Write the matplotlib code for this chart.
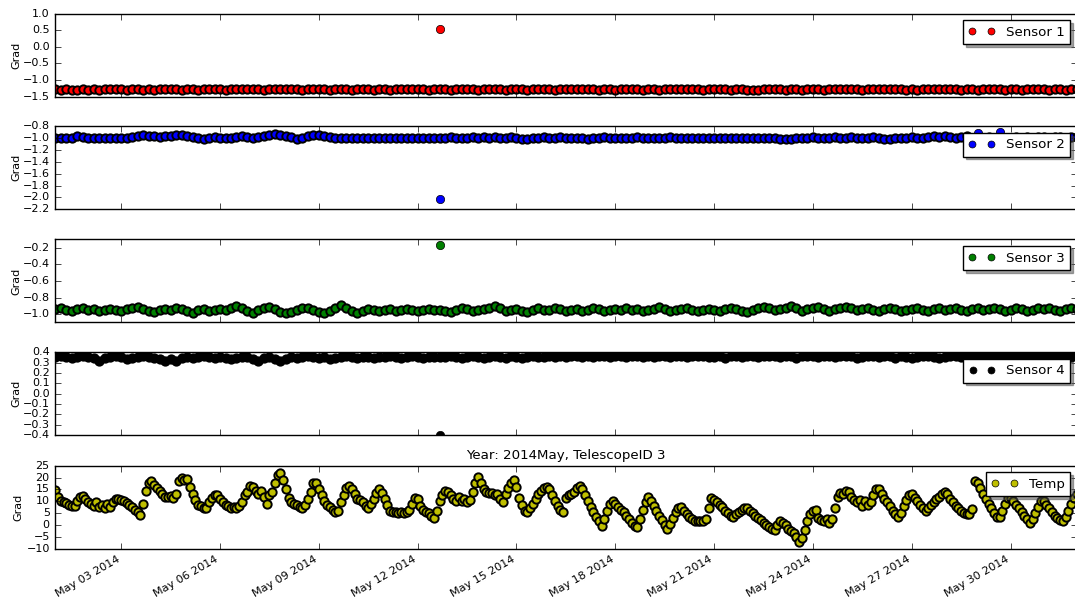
import numpy as np
import pandas as pd
import matplotlib
matplotlib.use('Agg')
import matplotlib.pyplot as plt
import matplotlib.dates as mdates

# temperature, every 2 hours from 2014-05-01 00:00 (one row per day)
temp = [
    14.8, 12.0, 10.2, 9.8, 9.2, 8.5, 7.8, 8.2, 10.0, 11.8, 12.4, 11.0,
    9.8, 9.0, 8.0, 9.5, 7.5, 8.6, 7.2, 9.0, 7.5, 9.8, 11.0, 10.8,
    10.4, 10.0, 9.2, 8.5, 7.5, 6.5, 5.5, 4.2, 9.0, 14.5, 17.8, 18.6,
    17.0, 15.5, 14.5, 13.0, 12.0, 11.8, 12.2, 11.5, 13.0, 18.5, 19.8, 18.8,
    19.5, 16.0, 13.0, 10.5, 8.5, 7.8, 7.0, 7.2, 9.5, 11.5, 12.8, 12.5,
    11.0, 9.8, 8.5, 7.8, 7.2, 7.5, 7.0, 7.8, 9.5, 12.5, 14.0, 16.5,
    16.0, 14.5, 13.0, 14.2, 12.0, 9.0, 12.5, 14.0, 17.5, 21.0, 21.8, 19.0,
    15.0, 11.5, 9.8, 9.0, 8.5, 7.5, 7.0, 8.5, 11.0, 14.0, 17.5, 17.8,
    15.0, 12.5, 10.0, 8.5, 7.5, 6.5, 5.5, 6.0, 9.5, 12.5, 15.5, 16.5,
    15.0, 13.0, 11.0, 10.5, 9.5, 8.0, 7.0, 9.0, 11.0, 13.5, 15.2, 13.5,
    11.0, 8.5, 6.0, 5.3, 5.5, 5.0, 5.5, 5.2, 5.5, 6.5, 9.0, 11.5,
    11.0, 8.0, 6.5, 5.5, 5.0, 4.0, 3.0, 6.0, 10.0, 12.5, 14.5, 14.0,
    12.5, 11.0, 10.0, 12.0, 10.0, 11.0, 9.8, 10.5, 14.0, 17.5, 20.2, 17.5,
    15.0, 14.0, 13.5, 13.5, 12.5, 13.0, 11.0, 9.5, 13.0, 15.5, 17.5, 19.0,
    16.0, 11.5, 8.5, 6.0, 5.5, 7.0, 9.0, 11.0, 13.0, 14.5, 15.5, 16.2,
    15.0, 12.5, 10.0, 8.0, 6.5, 5.5, 11.5, 12.5, 13.0, 14.0, 15.5, 16.5,
    15.0, 12.5, 10.0, 7.5, 5.5, 3.5, 1.5, -0.5, 2.5, 6.0, 9.0, 10.2,
    9.0, 7.5, 6.5, 5.5, 4.0, 2.5, 1.0, -0.5, -1.0, 2.5, 6.5, 9.5,
    11.8, 10.0, 8.0, 6.0, 4.0, 2.0, 0.0, -1.8, 0.5, 3.0, 5.5, 7.0,
    7.5, 6.0, 4.5, 3.5, 2.5, 1.8, 1.6, 1.5, 1.5, 2.5, 7.0, 11.5,
    10.5, 9.5, 8.5, 7.5, 6.0, 5.0, 4.0, 3.2, 4.5, 5.5, 6.5, 7.3,
    7.0, 6.0, 5.0, 4.0, 3.0, 2.0, 1.0, 0.0, -0.8, -1.5, -2.0, 0.0,
    1.5, 1.0, 0.0, -1.5, -2.5, -3.5, -5.0, -7.0, -5.5, -2.0, 1.5, 4.5,
    6.0, 6.5, 3.0, 2.0, 1.5, 2.5, 1.0, 2.5, 7.0, 12.0, 13.5, 13.0,
    14.5, 14.0, 12.0, 10.5, 9.5, 10.5, 8.0, 10.0, 8.5, 9.5, 12.5, 15.0,
    15.0, 13.0, 11.0, 9.5, 8.0, 6.0, 4.5, 3.2, 5.0, 8.0, 10.5, 12.5,
    13.2, 11.5, 10.0, 8.5, 7.0, 6.0, 7.0, 8.5, 9.5, 11.0, 12.0, 13.0,
    13.8, 13.0, 11.0, 9.5, 8.0, 7.0, 6.0, 5.0, 4.5, 4.5, 6.8, 18.5,
    17.5, 15.5, 13.0, 11.0, 9.0, 7.0, 5.0, 3.5, 3.2, 6.0, 9.0, 11.5,
    11.5, 10.0, 8.5, 7.0, 5.5, 4.0, 2.5, 1.0, 2.5, 5.0, 7.5, 10.0,
    10.2, 8.5, 7.0, 5.5, 4.0, 3.0, 2.0, 1.8, 3.5, 6.0, 9.0, 11.5,
    13.0,
]

# sensors, every 4 hours from 2014-05-01 00:00 (one row per day)
sensor1 = [
    -1.28, -1.29, -1.28, -1.30, -1.29, -1.28,
    -1.29, -1.28, -1.30, -1.28, -1.27, -1.28,
    -1.28, -1.29, -1.27, -1.28, -1.29, -1.28,
    -1.29, -1.28, -1.28, -1.27, -1.28, -1.29,
    -1.28, -1.28, -1.29, -1.28, -1.28, -1.27,
    -1.28, -1.29, -1.28, -1.28, -1.27, -1.28,
    -1.27, -1.28, -1.29, -1.28, -1.28, -1.28,
    -1.28, -1.27, -1.28, -1.29, -1.28, -1.27,
    -1.28, -1.28, -1.29, -1.28, -1.27, -1.28,
    -1.29, -1.28, -1.28, -1.28, -1.29, -1.28,
    -1.28, -1.29, -1.28, -1.27, -1.28, -1.28,
    -1.28, -1.28, -1.29, -1.28, -1.28, -1.28,
    -1.29, -1.28, -1.27, -1.28, -1.28, -1.29,
    -1.28, -1.27, -1.28, -1.28, -1.29, -1.28,
    -1.28, -1.28, -1.29, -1.28, -1.28, -1.27,
    -1.28, -1.29, -1.28, -1.28, -1.27, -1.28,
    -1.28, -1.28, -1.28, -1.29, -1.28, -1.28,
    -1.29, -1.28, -1.28, -1.27, -1.28, -1.29,
    -1.28, -1.28, -1.29, -1.28, -1.28, -1.28,
    -1.28, -1.27, -1.28, -1.28, -1.29, -1.28,
    -1.28, -1.28, -1.28, -1.29, -1.28, -1.28,
    -1.29, -1.30, -1.29, -1.28, -1.28, -1.28,
    -1.28, -1.29, -1.28, -1.28, -1.29, -1.28,
    -1.28, -1.28, -1.29, -1.28, -1.28, -1.27,
    -1.27, -1.28, -1.28, -1.29, -1.28, -1.28,
    -1.28, -1.28, -1.27, -1.28, -1.28, -1.29,
    -1.28, -1.29, -1.28, -1.28, -1.27, -1.28,
    -1.28, -1.28, -1.28, -1.29, -1.28, -1.28,
    -1.29, -1.28, -1.28, -1.28, -1.28, -1.29,
    -1.28, -1.28, -1.29, -1.28, -1.28, -1.28,
    -1.28, -1.29, -1.28, -1.28, -1.29, -1.28,
    -1.28,
]

sensor2 = [
    -1.00, -0.99, -1.00, -0.99, -0.97, -0.98,
    -0.99, -1.00, -0.99, -1.00, -0.99, -0.99,
    -1.00, -0.99, -0.98, -0.97, -0.95, -0.96,
    -0.97, -0.98, -0.97, -0.96, -0.95, -0.95,
    -0.96, -0.98, -1.00, -1.01, -0.99, -0.98,
    -0.99, -1.00, -0.99, -0.98, -0.97, -0.98,
    -0.99, -0.98, -0.97, -0.95, -0.93, -0.94,
    -0.96, -0.98, -1.01, -0.99, -0.96, -0.94,
    -0.95, -0.96, -0.98, -0.99, -1.00, -0.99,
    -0.99, -1.00, -0.99, -0.99, -1.00, -1.00,
    -1.00, -1.00, -0.99, -1.00, -1.00, -0.99,
    -1.00, -1.00, -1.00, -0.99, -0.99, -0.99,
    -0.98, -0.99, -1.00, -0.99, -0.98, -0.99,
    -0.98, -0.99, -0.98, -1.00, -0.99, -0.98,
    -0.99, -1.01, -1.02, -1.00, -0.99, -0.98,
    -0.99, -0.99, -0.98, -0.99, -0.99, -1.00,
    -1.00, -1.01, -1.00, -0.99, -0.98, -0.99,
    -0.99, -1.00, -0.99, -0.99, -0.98, -0.99,
    -0.99, -0.99, -1.00, -0.99, -0.98, -0.99,
    -0.99, -1.00, -0.99, -0.99, -0.99, -0.99,
    -0.99, -0.99, -1.00, -0.99, -0.99, -0.99,
    -0.99, -1.00, -0.99, -0.99, -1.00, -1.00,
    -1.01, -1.02, -1.01, -1.00, -0.99, -0.99,
    -0.98, -0.99, -1.00, -0.99, -0.98, -0.99,
    -0.99, -0.98, -0.99, -1.00, -0.99, -0.98,
    -1.00, -1.01, -1.01, -1.00, -0.99, -0.99,
    -0.98, -0.99, -0.99, -0.98, -0.97, -0.98,
    -0.97, -0.98, -0.99, -0.98, -0.97, -0.99,
    -0.99, -0.99, -0.98, -0.99, -0.98, -0.99,
    -0.99, -0.98, -0.99, -0.98, -0.99, -0.98,
    -0.98, -0.99, -0.98, -0.98, -0.99, -0.98,
    -0.98,
]

sensor3 = [
    -0.94, -0.93, -0.95, -0.96, -0.94, -0.93,
    -0.95, -0.94, -0.96, -0.95, -0.94, -0.95,
    -0.96, -0.94, -0.92, -0.91, -0.94, -0.96,
    -0.97, -0.95, -0.94, -0.95, -0.93, -0.94,
    -0.96, -0.98, -0.95, -0.94, -0.96, -0.95,
    -0.94, -0.95, -0.93, -0.90, -0.92, -0.96,
    -0.98, -0.95, -0.93, -0.91, -0.94, -0.97,
    -0.99, -0.97, -0.95, -0.93, -0.92, -0.95,
    -0.97, -0.99, -0.96, -0.93, -0.89, -0.93,
    -0.96, -0.98, -0.96, -0.94, -0.95, -0.96,
    -0.95, -0.94, -0.96, -0.95, -0.94, -0.95,
    -0.96, -0.95, -0.94, -0.95, -0.95, -0.96,
    -0.97, -0.95, -0.93, -0.94, -0.96, -0.95,
    -0.94, -0.92, -0.90, -0.93, -0.96, -0.95,
    -0.94, -0.96, -0.97, -0.95, -0.93, -0.95,
    -0.95, -0.93, -0.94, -0.96, -0.95, -0.94,
    -0.96, -0.95, -0.93, -0.94, -0.96, -0.95,
    -0.94, -0.95, -0.93, -0.95, -0.94, -0.96,
    -0.95, -0.94, -0.91, -0.94, -0.96, -0.95,
    -0.94, -0.92, -0.95, -0.96, -0.95, -0.94,
    -0.95, -0.96, -0.94, -0.92, -0.94, -0.96,
    -0.97, -0.95, -0.93, -0.91, -0.93, -0.95,
    -0.94, -0.92, -0.90, -0.93, -0.96, -0.94,
    -0.93, -0.91, -0.94, -0.96, -0.94, -0.92,
    -0.91, -0.93, -0.95, -0.94, -0.92, -0.95,
    -0.96, -0.94, -0.92, -0.94, -0.96, -0.95,
    -0.94, -0.93, -0.95, -0.96, -0.94, -0.93,
    -0.95, -0.94, -0.92, -0.95, -0.96, -0.94,
    -0.93, -0.95, -0.94, -0.92, -0.94, -0.96,
    -0.95, -0.93, -0.94, -0.96, -0.95, -0.93,
    -0.94, -0.92, -0.95, -0.96, -0.94, -0.93,
    -0.94,
]

sensor4 = [
    0.35, 0.36, 0.35, 0.34, 0.35, 0.36,
    0.35, 0.34, 0.32, 0.34, 0.35, 0.36,
    0.35, 0.33, 0.34, 0.35, 0.36, 0.35,
    0.34, 0.33, 0.32, 0.33, 0.32, 0.34,
    0.35, 0.34, 0.35, 0.36, 0.35, 0.34,
    0.35, 0.34, 0.33, 0.34, 0.35, 0.35,
    0.33, 0.32, 0.34, 0.35, 0.33, 0.32,
    0.33, 0.35, 0.34, 0.35, 0.36, 0.35,
    0.34, 0.35, 0.33, 0.34, 0.35, 0.36,
    0.35, 0.34, 0.35, 0.35, 0.34, 0.35,
    0.35, 0.36, 0.35, 0.34, 0.35, 0.36,
    0.35, 0.34, 0.35, 0.35, 0.35, 0.35,
    0.36, 0.35, 0.34, 0.35, 0.36, 0.35,
    0.34, 0.35, 0.36, 0.35, 0.34, 0.36,
    0.35, 0.34, 0.35, 0.36, 0.35, 0.35,
    0.36, 0.35, 0.36, 0.35, 0.36, 0.36,
    0.35, 0.36, 0.35, 0.36, 0.36, 0.35,
    0.36, 0.36, 0.35, 0.36, 0.36, 0.35,
    0.36, 0.35, 0.36, 0.36, 0.35, 0.36,
    0.36, 0.35, 0.36, 0.36, 0.36, 0.35,
    0.35, 0.36, 0.34, 0.36, 0.36, 0.35,
    0.36, 0.36, 0.35, 0.36, 0.36, 0.36,
    0.35, 0.36, 0.36, 0.34, 0.36, 0.36,
    0.36, 0.35, 0.36, 0.36, 0.35, 0.36,
    0.36, 0.36, 0.34, 0.35, 0.36, 0.36,
    0.35, 0.36, 0.36, 0.34, 0.36, 0.35,
    0.34, 0.35, 0.36, 0.36, 0.35, 0.34,
    0.35, 0.36, 0.36, 0.35, 0.36, 0.36,
    0.36, 0.35, 0.36, 0.36, 0.35, 0.36,
    0.36, 0.36, 0.35, 0.36, 0.36, 0.36,
    0.36, 0.35, 0.36, 0.36, 0.36, 0.35,
    0.36,
]

# single stray readings
spike_times = [['2014-05-12 16:00'], ['2014-05-12 16:00', '2014-05-29 00:00', '2014-05-29 16:00'],
               ['2014-05-12 16:00'], ['2014-05-12 16:00'], []]
spike_values = [[0.55], [-2.02, -0.92, -0.89], [-0.17], [-0.40], []]

sensor_names = ['Sensor 1', 'Sensor 2', 'Sensor 3', 'Sensor 4', 'Temp']
sensor_colors = ['r', 'b', 'g', 'k', 'y']
ylims = [(-1.5, 1.0), (-2.2, -0.8), (-1.1, -0.1), (-0.4, 0.4), (-10, 25)]
yticks = [np.arange(-1.5, 1.01, 0.5), np.arange(-2.2, -0.79, 0.2),
          np.arange(-1.0, -0.19, 0.2), np.arange(-0.4, 0.41, 0.1),
          np.arange(-10, 26, 5)]
tick_days = [3, 6, 9, 12, 15, 18, 21, 24, 27, 30]

t_sensor = pd.date_range('2014-05-01', periods=len(sensor1), freq='4h')
t_temp = pd.date_range('2014-05-01', periods=len(temp), freq='2h')

plt.style.use('classic')
plt.rcParams['font.size'] = 8

fig = plt.figure(figsize=(10.75, 6.03), dpi=100)
fig.patch.set_facecolor('white')

series = [(t_sensor, sensor1), (t_sensor, sensor2), (t_sensor, sensor3),
          (t_sensor, sensor4), (t_temp, temp)]

W, H = 1075.0, 603.0
left = 55.3 / W
width = (1076.5 - 55.3) / W
height = 83.0 / H
tops = [13.6, 126.3, 239.5, 352.2, 465.7]

for i, (tt, vals) in enumerate(series):
    ax = fig.add_axes([left, 1 - (tops[i] + 83.0) / H, width, height])
    ax.plot(tt, vals, 'o', color=sensor_colors[i], mec='k', mew=1.4,
            ms=6, label=sensor_names[i])
    if spike_values[i]:
        ax.plot(pd.to_datetime(spike_times[i]), spike_values[i], 'o',
                color=sensor_colors[i], mec='k', mew=0.5, ms=6)
    ax.set_xlim(pd.Timestamp('2014-05-01'), pd.Timestamp('2014-06-01'))
    ax.set_ylim(*ylims[i])
    ax.set_yticks(yticks[i])
    ax.set_ylabel('Grad')
    ax.yaxis.set_label_coords(-0.033 if i < 4 else -0.031, 0.5)
    ax.xaxis.set_major_locator(mdates.DayLocator(bymonthday=tick_days))
    ax.xaxis.set_major_formatter(mdates.DateFormatter('%b %d %Y'))
    leg = ax.legend(loc='upper right', numpoints=2, shadow=True, fontsize='large')
    for h in leg.legend_handles:
        h.set_markeredgewidth(0.5)
        h.set_markersize(5)
    if i < 4:
        ax.tick_params(labelbottom=False)
    else:
        ax.set_title('Year: 2014May, TelescopeID 3', fontsize='large')
        for lbl in ax.get_xticklabels():
            lbl.set_rotation(30)
            lbl.set_ha('right')

plt.savefig('out.png', dpi=100, facecolor='white')
